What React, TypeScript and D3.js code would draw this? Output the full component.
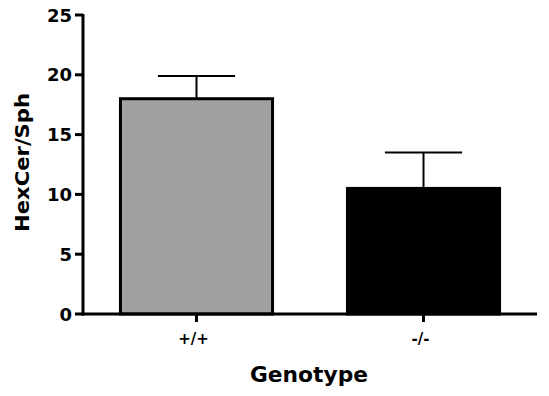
import React from "react";
import * as d3 from "d3";

const categories = ["+/+", "-/-"];
const means = [18.0, 10.5];
const errors = [1.9, 3.0];
const fills = ["#a0a0a0", "#000000"];
const yTicks = [0, 5, 10, 15, 20, 25];
const yLabel = "HexCer/Sph";
const xLabel = "Genotype";

export default function App() {
  const W = 549, H = 396;
  const y = d3.scaleLinear().domain([0, 25]).range([314, 15]);
  const x = d3.scalePoint<string>().domain(categories).range([83, 537]).padding(0.5);
  const step = x.step();
  const bw = step * 0.67;
  const capW = step * 0.34;
  const font = "'DejaVu Sans', Arial, sans-serif";
  return (
    <svg width={W} height={H} style={{ position: "absolute", left: 0, top: 0 }}>
      <rect width={W} height={H} fill="#fff" />
      {categories.map((c, i) => {
        const cx = x(c)!;
        return (
          <g key={c}>
            <line x1={cx} x2={cx} y1={y(means[i])} y2={y(means[i] + errors[i])} stroke="#000" strokeWidth={2} />
            <line x1={cx - capW / 2} x2={cx + capW / 2} y1={y(means[i] + errors[i])} y2={y(means[i] + errors[i])} stroke="#000" strokeWidth={2} />
            <rect x={cx - bw / 2} y={y(means[i])} width={bw} height={y(0) - y(means[i])} fill={fills[i]} stroke="#000" strokeWidth={3} />
            <line x1={cx} x2={cx} y1={y(0)} y2={y(0) + 8} stroke="#000" strokeWidth={3} />
            <text x={cx - 3} y={344} textAnchor="middle" fontFamily={font} fontWeight="bold" fontSize={15} fill="#000">{c}</text>
          </g>
        );
      })}
      <line x1={83} x2={83} y1={y(25) - 1} y2={y(0) + 1.5} stroke="#000" strokeWidth={3} />
      <line x1={81.5} x2={537} y1={y(0)} y2={y(0)} stroke="#000" strokeWidth={3} />
      {yTicks.map((t) => (
        <g key={t}>
          <line x1={75} x2={83} y1={y(t)} y2={y(t)} stroke="#000" strokeWidth={3} />
          <text x={72} y={y(t) + 6.5} textAnchor="end" fontFamily={font} fontWeight="bold" fontSize={18} fill="#000">{t}</text>
        </g>
      ))}
      <text transform="translate(29,162.5) rotate(-90)" textAnchor="middle" fontFamily={font} fontWeight="bold" fontSize={20} textLength={139} lengthAdjust="spacingAndGlyphs" fill="#000">{yLabel}</text>
      <text x={309} y={382} textAnchor="middle" fontFamily={font} fontWeight="bold" fontSize={21} textLength={118} lengthAdjust="spacingAndGlyphs" fill="#000">{xLabel}</text>
    </svg>
  );
}
